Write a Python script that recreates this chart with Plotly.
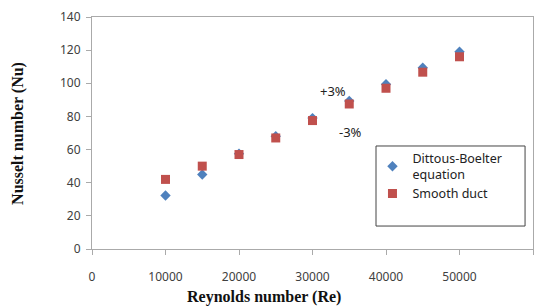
import plotly.graph_objects as go

reynolds = [10000, 15000, 20000, 25000, 30000, 35000, 40000, 45000, 50000]
nu_dittus = [32.3, 45, 57.5, 68, 79, 89.3, 99.4, 109.4, 119]
nu_smooth = [42, 50, 57, 67, 77.5, 87.5, 97, 106.7, 116]

x_ticks = [0, 10000, 20000, 30000, 40000, 50000, 60000]
y_ticks = [0, 20, 40, 60, 80, 100, 120, 140]

fig = go.Figure()
fig.add_trace(go.Scatter(x=reynolds, y=nu_dittus, mode="markers",
                         name="Dittous-Boelter<br>equation",
                         marker=dict(symbol="diamond", size=8, color="#4F81BD")))
fig.add_trace(go.Scatter(x=reynolds, y=nu_smooth, mode="markers",
                         name="Smooth duct",
                         marker=dict(symbol="square", size=9, color="#C0504D")))

fig.add_annotation(x=32800, y=95.3, text="+3%", showarrow=False,
                   font=dict(family="Noto Sans", size=13, color="#222"))
fig.add_annotation(x=35150, y=70.8, text="-3%", showarrow=False,
                   font=dict(family="Noto Sans", size=13, color="#222"))

# axis titles
fig.add_annotation(xref="paper", yref="paper", x=0.39, y=-0.205, yanchor="middle",
                   text="<b>Reynolds number (Re)</b>", showarrow=False,
                   font=dict(family="Liberation Serif", size=16, color="#111"))
fig.add_annotation(xref="paper", yref="paper", x=-0.168, y=0.5, xanchor="center",
                   text="<b>Nusselt number (Nu)</b>", showarrow=False, textangle=-90,
                   font=dict(family="Liberation Serif", size=16, color="#111"))

# legend frame
fig.add_shape(type="rect", xref="paper", yref="paper",
              x0=0.644, x1=0.982, y0=0.099, y1=0.444,
              line=dict(color="#444", width=1), fillcolor="white", layer="above")

fig.update_layout(
    width=547, height=307,
    margin=dict(l=92, r=14, t=17, b=58, autoexpand=False),
    paper_bgcolor="white", plot_bgcolor="white",
    showlegend=True,
    legend=dict(x=0.636, y=0.455, xanchor="left", yanchor="top",
                borderwidth=0, bgcolor="rgba(0,0,0,0)",
                font=dict(family="Noto Sans", size=12.5, color="#222"),
                tracegroupgap=4, itemwidth=30),
    font=dict(family="Noto Sans", size=12, color="#404040"),
)
fig.update_xaxes(range=[0, 60000], tickvals=x_ticks, ticktext=[str(v) for v in x_ticks],
                 showgrid=False, zeroline=False, showline=True, linecolor="#aaa",
                 mirror=True, ticks="outside", tickcolor="#aaa", ticklen=5,
                 ticklabelstandoff=12, automargin=False)
fig.update_yaxes(range=[0, 140], tickvals=y_ticks,
                 showgrid=False, zeroline=False, showline=True, linecolor="#aaa",
                 mirror=True, ticks="outside", tickcolor="#aaa", ticklen=5,
                 ticklabelstandoff=3, automargin=False)

fig.write_html("out.html", config={"displayModeBar": False},
               post_script="document.body.style.margin='0';")
